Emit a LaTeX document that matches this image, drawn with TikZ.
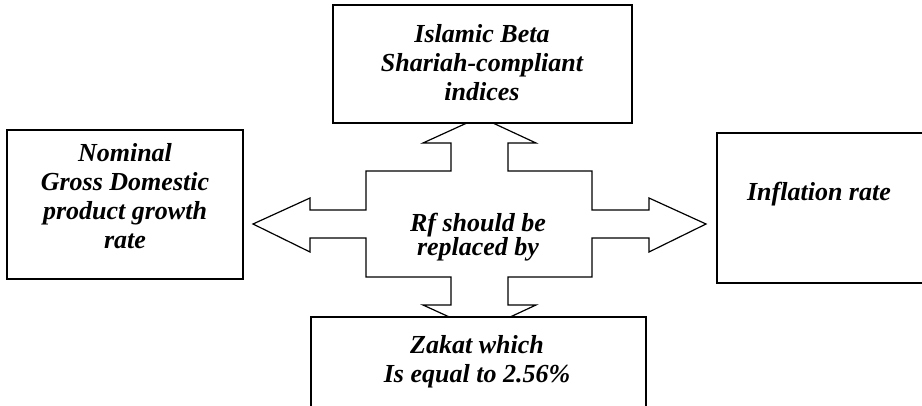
\documentclass[tikz,border=0pt]{standalone}
\usepackage{fontspec}
\setmainfont{Liberation Serif}
\usepackage{tikz}
\usetikzlibrary{calc,positioning}

\begin{document}
\begin{tikzpicture}[x=1pt,y=-1pt,
    box/.style={draw,line width=1.6pt,fill=white,inner sep=0pt},
    boxtext/.style={align=center,anchor=base,inner sep=0pt,
        font=\fontsize{26}{29}\selectfont\bfseries\itshape},
    cross/.style={draw,line width=1.2pt,fill=white,line join=miter}]

    \useasboundingbox (0,0) rectangle (922,405);

    % four way arrow
    \draw[cross] (451,171) -- (451,143) -- (423,143) -- (480,117) -- (536,143)
        -- (508,143) -- (508,171) -- (592,171) -- (592,210) -- (649,210)
        -- (649,198) -- (706,224) -- (649,252) -- (649,238) -- (592,238)
        -- (592,277) -- (508,277) -- (508,305) -- (536,305) -- (480,331)
        -- (423,305) -- (451,305) -- (451,277) -- (366,277) -- (366,238)
        -- (310,238) -- (310,252) -- (253,224) -- (310,198) -- (310,210)
        -- (366,210) -- (366,171) -- cycle;

    \node[box, minimum width=299pt, minimum height=118pt] (beta-box) at (482.5,64) {};
    \node[box, minimum width=236pt, minimum height=149pt] (gdp-box) at (125,204.5) {};
    \node[box, minimum width=218pt, minimum height=150pt] (infl-box) at (826,208) {};
    \node[box, minimum width=335pt, minimum height=103pt] (zakat-box) at (478.5,368.5) {};

    % base anchor sits on the last line
    \node[boxtext] (beta-text) at (482,100) {Islamic Beta\\Shariah-compliant\\indices};
    \node[boxtext] (gdp-text) at (125,248) {Nominal\\Gross Domestic\\product growth\\rate};
    \node[boxtext] (infl-text) at (819,200) {Inflation rate};
    \node[boxtext] (zakat-text) at (477,382) {Zakat which\\Is equal to 2.56\%};
    \node[boxtext, font=\fontsize{26}{24}\selectfont\bfseries\itshape] (rf-text) at (478,255) {Rf should be\\replaced by};

\end{tikzpicture}
\end{document}
